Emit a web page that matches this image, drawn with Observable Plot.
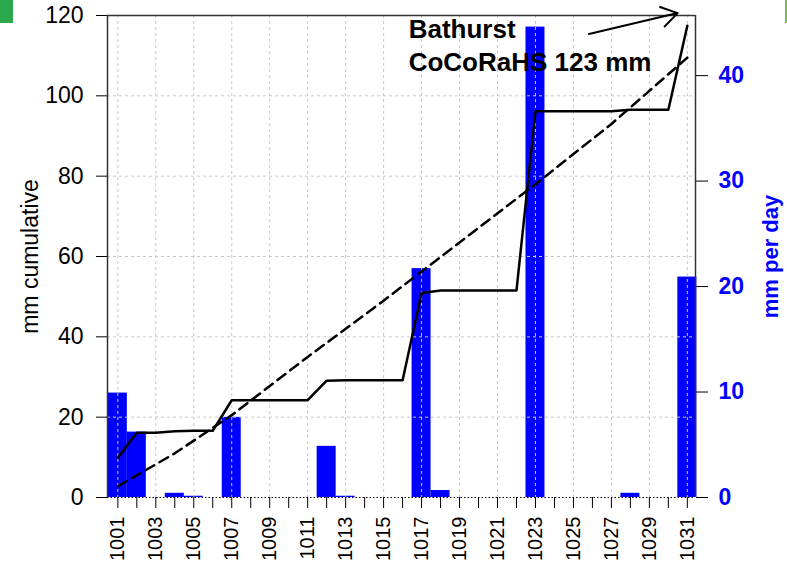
<!DOCTYPE html>
<html><head><meta charset="utf-8">
<script src="https://cdn.jsdelivr.net/npm/d3@7"></script>
<script src="https://cdn.jsdelivr.net/npm/@observablehq/plot@0.6"></script>
<style>
body{margin:0;background:#fff;}
#wrap{position:relative;width:787px;height:561px;overflow:hidden;background:#fff;}
#wrap svg{position:absolute;left:0;top:0;}
.g1{position:absolute;left:0;top:0;width:13px;height:23px;background:#2ba84a;z-index:2;}
.g2{position:absolute;left:785px;top:0;width:2px;height:23px;background:#6cc04a;z-index:2;}
</style></head><body>
<div id="wrap"><div class="g1"></div><div class="g2"></div></div>
<script>
// Day labels (October, MMDD)
const dayLabels = ["1001","1002","1003","1004","1005","1006","1007","1008","1009","1010",
  "1011","1012","1013","1014","1015","1016","1017","1018","1019","1020",
  "1021","1022","1023","1024","1025","1026","1027","1028","1029","1030","1031"];
// Daily precipitation, mm per day (right axis)
const dailyMm = [9.9, 6.2, 0, 0.4, 0.12, 0, 7.6, 0, 0, 0,
  0, 4.85, 0.12, 0, 0, 0, 21.7, 0.66, 0, 0,
  0, 0, 44.6, 0, 0, 0, 0, 0.4, 0, 0, 20.9];
// Normal cumulative (dashed line), read at a few days
const normalDays = [1, 4, 7, 11, 15, 19, 23, 27, 31];
const normalCum = [2.8, 11, 20.5, 35, 49, 63.5, 78, 93, 109.5];
// Axis ticks
const leftTicks = [0, 20, 40, 60, 80, 100, 120];
const rightTicks = [0, 10, 20, 30, 40];
const leftMax = 120;
const rightMax = 45.7;
const annotationText = "Bathurst\nCoCoRaHS 123 mm";
const leftLabel = "mm cumulative";
const rightLabel = "mm per day";

const k = leftMax / rightMax;
const cum = d3.cumsum(dailyMm);
const rows = dayLabels.map((lab, i) => ({day: i + 1, label: lab, mm: dailyMm[i], cum: cum[i]}));
const normalRows = normalDays.map((d, i) => ({day: d, cum: normalCum[i]}));
const days = rows.map(r => r.day);
const oddDays = days.filter(d => d % 2 === 1);
const xDomain = [0.455, 31.43];
const font = "'Liberation Sans', Arial, sans-serif";

const chart = Plot.plot({
  width: 787,
  height: 561,
  marginLeft: 107,
  marginRight: 92,
  marginTop: 15,
  marginBottom: 64,
  style: {fontFamily: font, background: "transparent", overflow: "visible", color: "black"},
  x: {type: "linear", domain: xDomain},
  y: {domain: [0, leftMax]},
  marks: [
    Plot.rectY(rows, {x1: d => d.day - 0.5, x2: d => d.day + 0.5, y1: 0, y2: d => d.mm * k, fill: "#0000ff"}),
    Plot.ruleX(oddDays, {stroke: "#c8c8c8", strokeDasharray: "3,3"}),
    Plot.ruleY(leftTicks.filter(v => v > 0 && v < leftMax), {stroke: "#c8c8c8", strokeDasharray: "3,3"}),
    Plot.ruleY([0], {stroke: "black", strokeDasharray: "1.5,2"}),
    Plot.ruleX(xDomain, {stroke: "#333", strokeWidth: 1.5}),
    Plot.ruleY([leftMax], {stroke: "#333", strokeWidth: 1.5}),
    Plot.line(normalRows, {x: "day", y: "cum", stroke: "black", strokeWidth: 2.5, strokeDasharray: "10,6"}),
    Plot.line(rows, {x: "day", y: "cum", stroke: "black", strokeWidth: 2.5}),
    Plot.axisX({ticks: days, tickSize: 11, tickPadding: 8, tickRotate: -90, fontSize: 20,
      tickFormat: d => (d % 2 === 1 ? dayLabels[d - 1] : ""), label: null}),
    Plot.axisY({anchor: "left", ticks: leftTicks, tickSize: 11, tickPadding: 13, fontSize: 23, label: null}),
    Plot.axisY({anchor: "right", ticks: rightTicks.map(v => v * k), tickFormat: v => String(Math.round(v / k)),
      tickSize: 12, tickPadding: 11, fontSize: 23, fontWeight: "bold", fill: "#0000ff", stroke: "black", label: null}),
    Plot.text([leftLabel], {frameAnchor: "left", textAnchor: "middle", dx: -77, rotate: -90, fontSize: 23, fill: "black"}),
    Plot.text([rightLabel], {frameAnchor: "right", textAnchor: "middle", dx: 75, rotate: -90, fontSize: 22, fontWeight: "bold", fill: "#0000ff"}),
    Plot.text([annotationText], {x: 16.32, y: 106.1, textAnchor: "start", lineAnchor: "bottom", lineHeight: 1.3,
      fontSize: 26, fontWeight: "bold", fill: "black"}),
    Plot.arrow([0], {x1: 25.82, y1: 115.4, x2: 30.49, y2: 120.6, stroke: "black", strokeWidth: 2, headLength: 14, headAngle: 65})
  ]
});
document.getElementById("wrap").appendChild(chart);
</script>
</body></html>
